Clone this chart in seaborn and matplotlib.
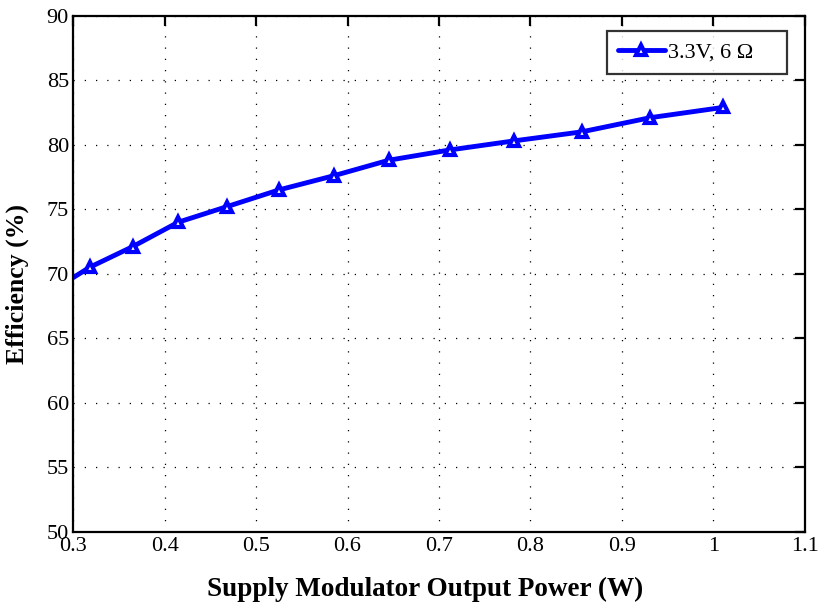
import numpy as np
import pandas as pd
import matplotlib
matplotlib.use("Agg")
import matplotlib.pyplot as plt
import seaborn as sns

# data
power_w = [0.300, 0.318, 0.365, 0.415, 0.468, 0.525, 0.585, 0.645, 0.712, 0.782, 0.856, 0.931, 1.011]
efficiency = [69.7, 70.5, 72.1, 74.0, 75.2, 76.5, 77.6, 78.8, 79.6, 80.3, 81.0, 82.1, 82.9]
series_label = "3.3V, 6 \u03a9"

x_ticks = [0.3, 0.4, 0.5, 0.6, 0.7, 0.8, 0.9, 1.0, 1.1]
x_ticklabels = ["0.3", "0.4", "0.5", "0.6", "0.7", "0.8", "0.9", "1", "1.1"]
y_ticks = [50, 55, 60, 65, 70, 75, 80, 85, 90]

sns.set_theme(style="white")
plt.rcParams['font.family'] = ['Liberation Serif', 'DejaVu Serif']
plt.rcParams['text.color'] = 'black'
plt.rcParams['axes.labelcolor'] = 'black'

df = pd.DataFrame({"Power": power_w, "Efficiency": efficiency})

fig = plt.figure(figsize=(8.22, 6.07), dpi=100)
ax = fig.add_axes([0.089, 0.124, 0.890, 0.850])

# first point only marks where the curve enters the axes (no marker there)
sns.lineplot(data=df, x="Power", y="Efficiency", ax=ax, color="#0000ff",
             linewidth=3.5, marker="^", markersize=7.5, markerfacecolor="white",
             markeredgecolor="#0000ff", markeredgewidth=3,
             markevery=list(range(1, len(power_w))), label=series_label + "    ")

ax.set_xlim(0.3, 1.1)
ax.set_ylim(50, 90)
ax.set_xticks(x_ticks)
ax.set_xticklabels(x_ticklabels)
ax.set_yticks(y_ticks)

ax.grid(True, color="black", linestyle=(0, (1, 8)), linewidth=0.9)
for s in ax.spines.values():
    s.set_color("black")
    s.set_linewidth(1.6)
ax.tick_params(direction="in", length=7, width=1.6, top=True, right=True,
               labelsize=16, colors="black", pad=4)
ax.tick_params(axis="y", pad=3)

ax.set_xlabel("Supply Modulator Output Power (W)", fontsize=19.5, fontweight="bold")
ax.set_ylabel("Efficiency (%)", fontsize=18.5, fontweight="bold")
ax.xaxis.set_label_coords(0.481, -0.088)
ax.yaxis.set_label_coords(-0.061, 0.48)

leg = ax.legend(loc="upper right", bbox_to_anchor=(0.9755, 0.971), borderaxespad=0,
                fontsize=16, frameon=True, fancybox=False, handlelength=2.1,
                handletextpad=0.15, borderpad=0.5)
leg.get_frame().set_edgecolor("black")
leg.get_frame().set_linewidth(1.6)

fig.savefig("out.png", dpi=100)
